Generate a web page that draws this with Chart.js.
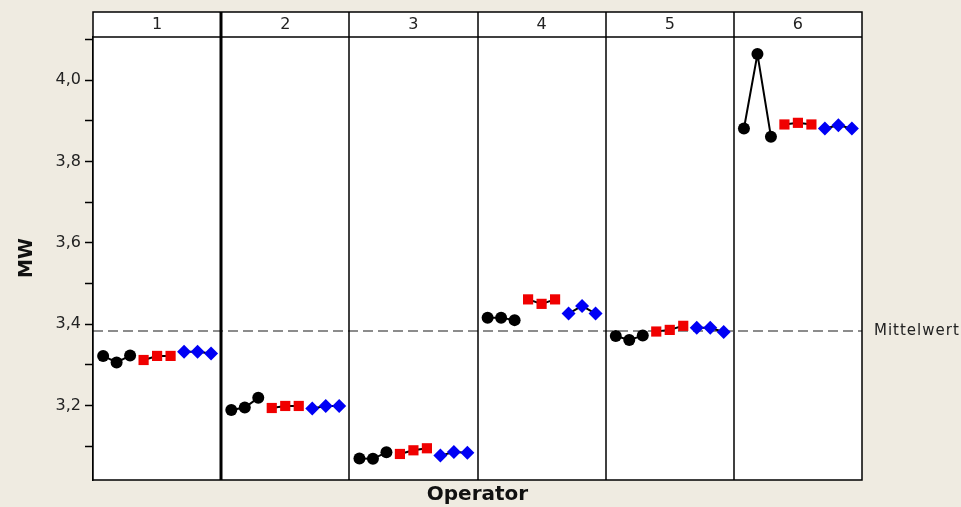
<!DOCTYPE html>
<html>
<head>
<meta charset="utf-8">
<script src="https://cdn.jsdelivr.net/npm/chart.js@4/dist/chart.umd.min.js"></script>
<style>
  html, body { margin: 0; padding: 0; background: #efebe1; }
  #wrap { width: 961px; height: 507px; }
</style>
</head>
<body>
<div id="wrap"><canvas id="c" width="961" height="507"></canvas></div>
<script>
// Daten
const operatoren = ['1', '2', '3', '4', '5', '6'];
const serieSchwarz = [[3.322, 3.306, 3.323], [3.189, 3.195, 3.219], [3.070, 3.069, 3.085], [3.416, 3.416, 3.410], [3.371, 3.361, 3.372], [3.881, 4.064, 3.861]];
const serieRot = [[3.312, 3.322, 3.322], [3.194, 3.199, 3.199], [3.081, 3.090, 3.095], [3.461, 3.450, 3.461], [3.382, 3.386, 3.396], [3.891, 3.895, 3.891]];
const serieBlau = [[3.332, 3.332, 3.328], [3.193, 3.199, 3.199], [3.077, 3.086, 3.084], [3.426, 3.445, 3.426], [3.391, 3.391, 3.381], [3.881, 3.889, 3.881]];
const mittelwert = 3.383;
const yMin = 3.017, yMax = 4.106;

const PANEL = 9.5;   // Breite eines Panels in x-Einheiten
const RAND = 0.75;

// Punkte je Gruppe bauen, null trennt die Panels
function punkte(serie, gruppe) {
  const out = [];
  serie.forEach((werte, i) => {
    werte.forEach((v, k) => out.push({ x: i * PANEL + RAND + gruppe * 3 + k, y: v }));
    out.push({ x: i * PANEL + PANEL - 0.1, y: null });
  });
  return out;
}

const hintergrund = {
  id: 'hintergrund',
  beforeDatasetsDraw(chart) {
    const { ctx, chartArea: a, scales: { x, y } } = chart;
    ctx.save();
    ctx.fillStyle = '#fff';
    ctx.fillRect(a.left, a.top, a.right - a.left, a.bottom - a.top);
    // Mittelwert-Linie
    const ym = y.getPixelForValue(mittelwert);
    ctx.strokeStyle = '#8c8c8c';
    ctx.lineWidth = 2;
    ctx.setLineDash([10, 5]);
    ctx.beginPath();
    ctx.moveTo(a.left, ym);
    ctx.lineTo(a.right, ym);
    ctx.stroke();
    ctx.setLineDash([]);
    // Panel-Trennlinien
    ctx.strokeStyle = '#000';
    for (let i = 1; i < operatoren.length; i++) {
      const px = Math.round(x.getPixelForValue(i * PANEL));
      ctx.lineWidth = i === 1 ? 3 : 1.5;
      ctx.beginPath();
      ctx.moveTo(px, a.top - 25);
      ctx.lineTo(px, a.bottom);
      ctx.stroke();
    }
    ctx.restore();
  },
  afterDraw(chart) {
    const { ctx, chartArea: a, scales: { x, y } } = chart;
    ctx.save();
    // Kopfzeile
    ctx.fillStyle = '#fff';
    ctx.strokeStyle = '#000';
    ctx.lineWidth = 1.5;
    ctx.fillRect(a.left, a.top - 25, a.right - a.left, 25);
    ctx.strokeRect(a.left, a.top - 25, a.right - a.left, a.bottom - a.top + 25);
    ctx.beginPath();
    ctx.moveTo(a.left, a.top);
    ctx.lineTo(a.right, a.top);
    ctx.stroke();
    for (let i = 1; i < operatoren.length; i++) {
      const px = Math.round(x.getPixelForValue(i * PANEL));
      ctx.lineWidth = i === 1 ? 3 : 1.5;
      ctx.beginPath();
      ctx.moveTo(px, a.top - 25);
      ctx.lineTo(px, a.top);
      ctx.stroke();
    }
    ctx.fillStyle = '#222';
    ctx.font = '16px "DejaVu Sans"';
    ctx.textAlign = 'center';
    ctx.textBaseline = 'middle';
    operatoren.forEach((op, i) => {
      ctx.fillText(op, x.getPixelForValue(i * PANEL + PANEL / 2), a.top - 12);
    });
    // Beschriftungen
    ctx.fillStyle = '#222';
    ctx.font = '15px "DejaVu Sans"';
    ctx.letterSpacing = '1px';
    ctx.textAlign = 'left';
    ctx.fillText('Mittelwert', a.right + 12, y.getPixelForValue(mittelwert));
    ctx.letterSpacing = '0px';
    ctx.fillStyle = '#111';
    ctx.font = 'bold 20px "DejaVu Sans"';
    ctx.textAlign = 'center';
    ctx.fillText('Operator', (a.left + a.right) / 2, 495);
    ctx.translate(27, 258);
    ctx.rotate(-Math.PI / 2);
    ctx.font = 'bold 19px "DejaVu Sans"';
    ctx.fillText('MW', 0, 0);
    ctx.restore();
  }
};

const basis = { borderColor: '#000', borderWidth: 2, showLine: true, spanGaps: false, pointBorderWidth: 0 };

new Chart(document.getElementById('c'), {
  type: 'line',
  data: {
    datasets: [
      { ...basis, data: punkte(serieSchwarz, 0), pointStyle: 'circle', pointRadius: 6, pointBackgroundColor: '#000' },
      { ...basis, data: punkte(serieRot, 1), pointStyle: 'rect', pointRadius: 7.2, pointBackgroundColor: '#f00000' },
      { ...basis, data: punkte(serieBlau, 2), pointStyle: 'rectRot', pointRadius: 7, pointBackgroundColor: '#0000f5' }
    ]
  },
  options: {
    responsive: false,
    animation: false,
    layout: { padding: { top: 37, right: 99, bottom: 27, left: 0 } },
    plugins: { legend: { display: false }, tooltip: { enabled: false } },
    elements: { line: { tension: 0 } },
    scales: {
      x: { type: 'linear', min: 0, max: PANEL * operatoren.length, display: false },
      y: {
        min: yMin, max: yMax,
        afterFit(s) { s.width = 93; },
        afterBuildTicks(s) {
          const t = [];
          for (let v = 31; v <= 41; v++) t.push({ value: v / 10 });
          s.ticks = t;
        },
        ticks: {
          color: '#222',
          padding: 4,
          font: { family: 'DejaVu Sans', size: 16 },
          callback: v => (Math.round(v * 10) % 2 === 0 ? v.toFixed(1).replace('.', ',') : '')
        },
        grid: { drawOnChartArea: false, tickLength: 8, color: '#000', tickWidth: 1.5 },
        border: { display: true, color: '#000', width: 1.5 }
      }
    }
  },
  plugins: [hintergrund]
});
</script>
</body>
</html>
